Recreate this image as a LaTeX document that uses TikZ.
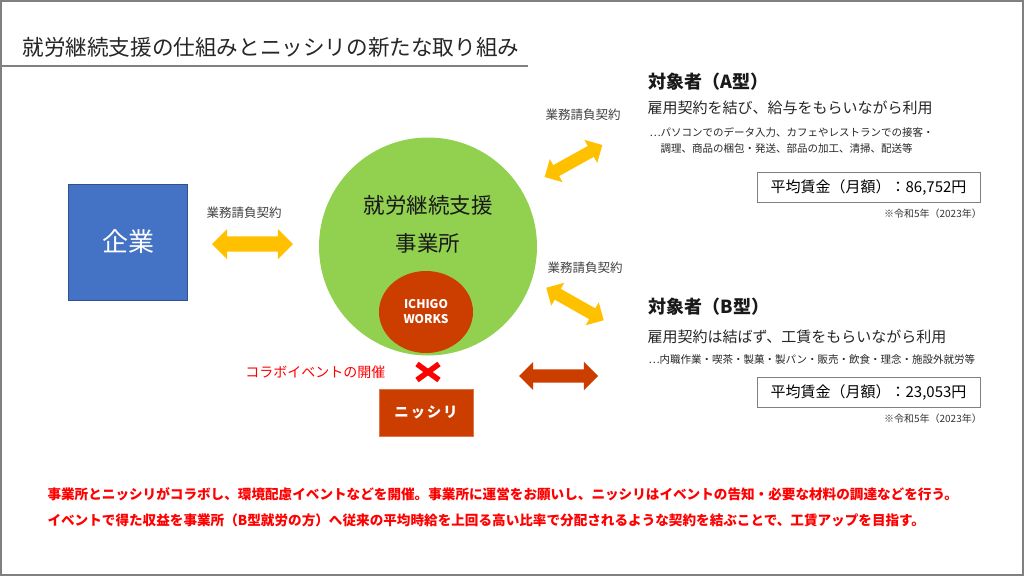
\documentclass[tikz,border=0pt]{standalone}
\usepackage{fontspec}
\setmainfont{Noto Sans CJK JP}
\usepackage{tikz}
\usetikzlibrary{positioning,shapes.geometric,shapes.arrows,calc}

\definecolor{kigyoblue}{HTML}{4472C4}
\definecolor{kigyoline}{HTML}{2F528F}
\definecolor{keiyakuyellow}{HTML}{FFC000}
\definecolor{jigyogreen}{HTML}{92D050}
\definecolor{ichigored}{HTML}{CC3D00}
\definecolor{labelgray}{HTML}{404040}
\definecolor{framegray}{HTML}{808080}
\newcommand{\fsz}[1]{\fontsize{#1}{#1}\selectfont}

\begin{document}
\begin{tikzpicture}[x=1pt,y=-1pt,
    dblarrow/.style={double arrow, draw=none, inner xsep=0pt},
    keiyaku/.style={text=labelgray, font=\fsz{12.5}},
    wagebox/.style={draw=framegray, line width=1, minimum width=223, minimum height=30, font=\fsz{15}},
    note/.style={anchor=east, inner sep=0, text=black!80, font=\fsz{10}}]
    \useasboundingbox (0,0) rectangle (1024,576);
    \draw[framegray, line width=2] (1,1) rectangle (1023,575);

    %titolo
    \node[anchor=west, text=black!85, font=\fsz{21.6}] (title) at (19,47) {就労継続支援の仕組みとニッシリの新たな取り組み};
    \draw[framegray, line width=1.5] (0,66) -- (528,66);

    %企業
    \node[draw=kigyoline, fill=kigyoblue, minimum width=119, minimum height=116, text=white, font=\fsz{26}] (kigyo) at (128,242) {企業};
    \node[dblarrow, fill=keiyakuyellow, minimum height=81, inner ysep=7.5, double arrow head extend=7.5] (arrowK) at (252.5,244) {};
    \node[keiyaku] (keiyakuK) at (244,213) {業務請負契約};

    %事業所
    \node[circle, fill=jigyogreen, minimum size=218, inner sep=0] (jigyo) at (428,246.5) {};
    \node[align=center, text=black!90, font=\fontsize{21.5}{38}\selectfont] (jigyolabel) at (428,224) {就労継続支援\\事業所};
    \node[ellipse, fill=ichigored, minimum width=94, minimum height=82, inner sep=0, align=center, text=white, font=\bfseries\fontsize{12}{15}\selectfont] (ichigo) at (426,312) {ICHIGO\\WORKS};

    %コラボ
    \coordinate (cross) at (428,372);
    \draw[red, line width=5.5] ($(cross)+(-11,-8)$) -- ($(cross)+(11,8)$);
    \draw[red, line width=5.5] ($(cross)+(-11,8)$) -- ($(cross)+(11,-8)$);
    \node[anchor=east, text=red, font=\fsz{14}] (collab) at (389,372) {コラボイベントの開催};
    \node[fill=ichigored, draw=ichigored!70!white, minimum width=94, minimum height=47, text=white, font=\bfseries\fsz{14.5}\addfontfeatures{LetterSpace=12}] (nisshiri) at (426,412.5) {ニッシリ};
    \node[dblarrow, fill=ichigored, minimum height=79, inner ysep=6.5, double arrow head extend=7.5] (arrowN) at (558.5,376) {};

    %A型
    \node[dblarrow, fill=keiyakuyellow, minimum height=66, inner ysep=6, double arrow head extend=7, rotate=29] (arrowA) at (573.5,161) {};
    \node[keiyaku] (keiyakuA) at (583,115) {業務請負契約};
    \node[anchor=west, text=black!90, font=\bfseries\fsz{18}] (typeA) at (645,82) {対象者（A型）};
    \node[anchor=west, text=black!85, font=\fsz{15}] (typeAdesc) at (644,108) {雇用契約を結び、給与をもらいながら利用};
    \node[anchor=west, text=black!85, font=\fsz{10.5}] (typeAwork1) at (646,132) {…パソコンでのデータ入力、カフェやレストランでの接客・};
    \node[anchor=west, text=black!85, font=\fsz{10.5}] (typeAwork2) at (657,149) {調理、商品の梱包・発送、部品の加工、清掃、配送等};
    \node[wagebox] (wageA) at (868.5,187) {平均賃金（月額）：86,752円};
    \node[note] (noteA) at (982,214) {※令和5年（2023年）};

    %B型
    \node[dblarrow, fill=keiyakuyellow, minimum height=66, inner ysep=6, double arrow head extend=7, rotate=-29.5] (arrowB) at (575,304) {};
    \node[keiyaku] (keiyakuB) at (585,268) {業務請負契約};
    \node[anchor=west, text=black!90, font=\bfseries\fsz{18}] (typeB) at (645,307) {対象者（B型）};
    \node[anchor=west, text=black!85, font=\fsz{15}] (typeBdesc) at (644,337) {雇用契約は結ばず、工賃をもらいながら利用};
    \node[anchor=west, text=black!85, font=\fsz{10.5}] (typeBwork) at (645,359) {…内職作業・喫茶・製菓・製パン・販売・飲食・理念・施設外就労等};
    \node[wagebox] (wageB) at (868.5,392.5) {平均賃金（月額）：23,053円};
    \node[note] (noteB) at (982,419) {※令和5年（2023年）};

    %説明
    \node[anchor=west, text=red, font=\bfseries\fsz{13.6}] (summary1) at (44,494) {事業所とニッシリがコラボし、環境配慮イベントなどを開催。事業所に運営をお願いし、ニッシリはイベントの告知・必要な材料の調達などを行う。};
    \node[anchor=west, text=red, font=\bfseries\fsz{13.6}] (summary2) at (44,520) {イベントで得た収益を事業所（B型就労の方）へ従来の平均時給を上回る高い比率で分配されるような契約を結ぶことで、工賃アップを目指す。};
\end{tikzpicture}
\end{document}
